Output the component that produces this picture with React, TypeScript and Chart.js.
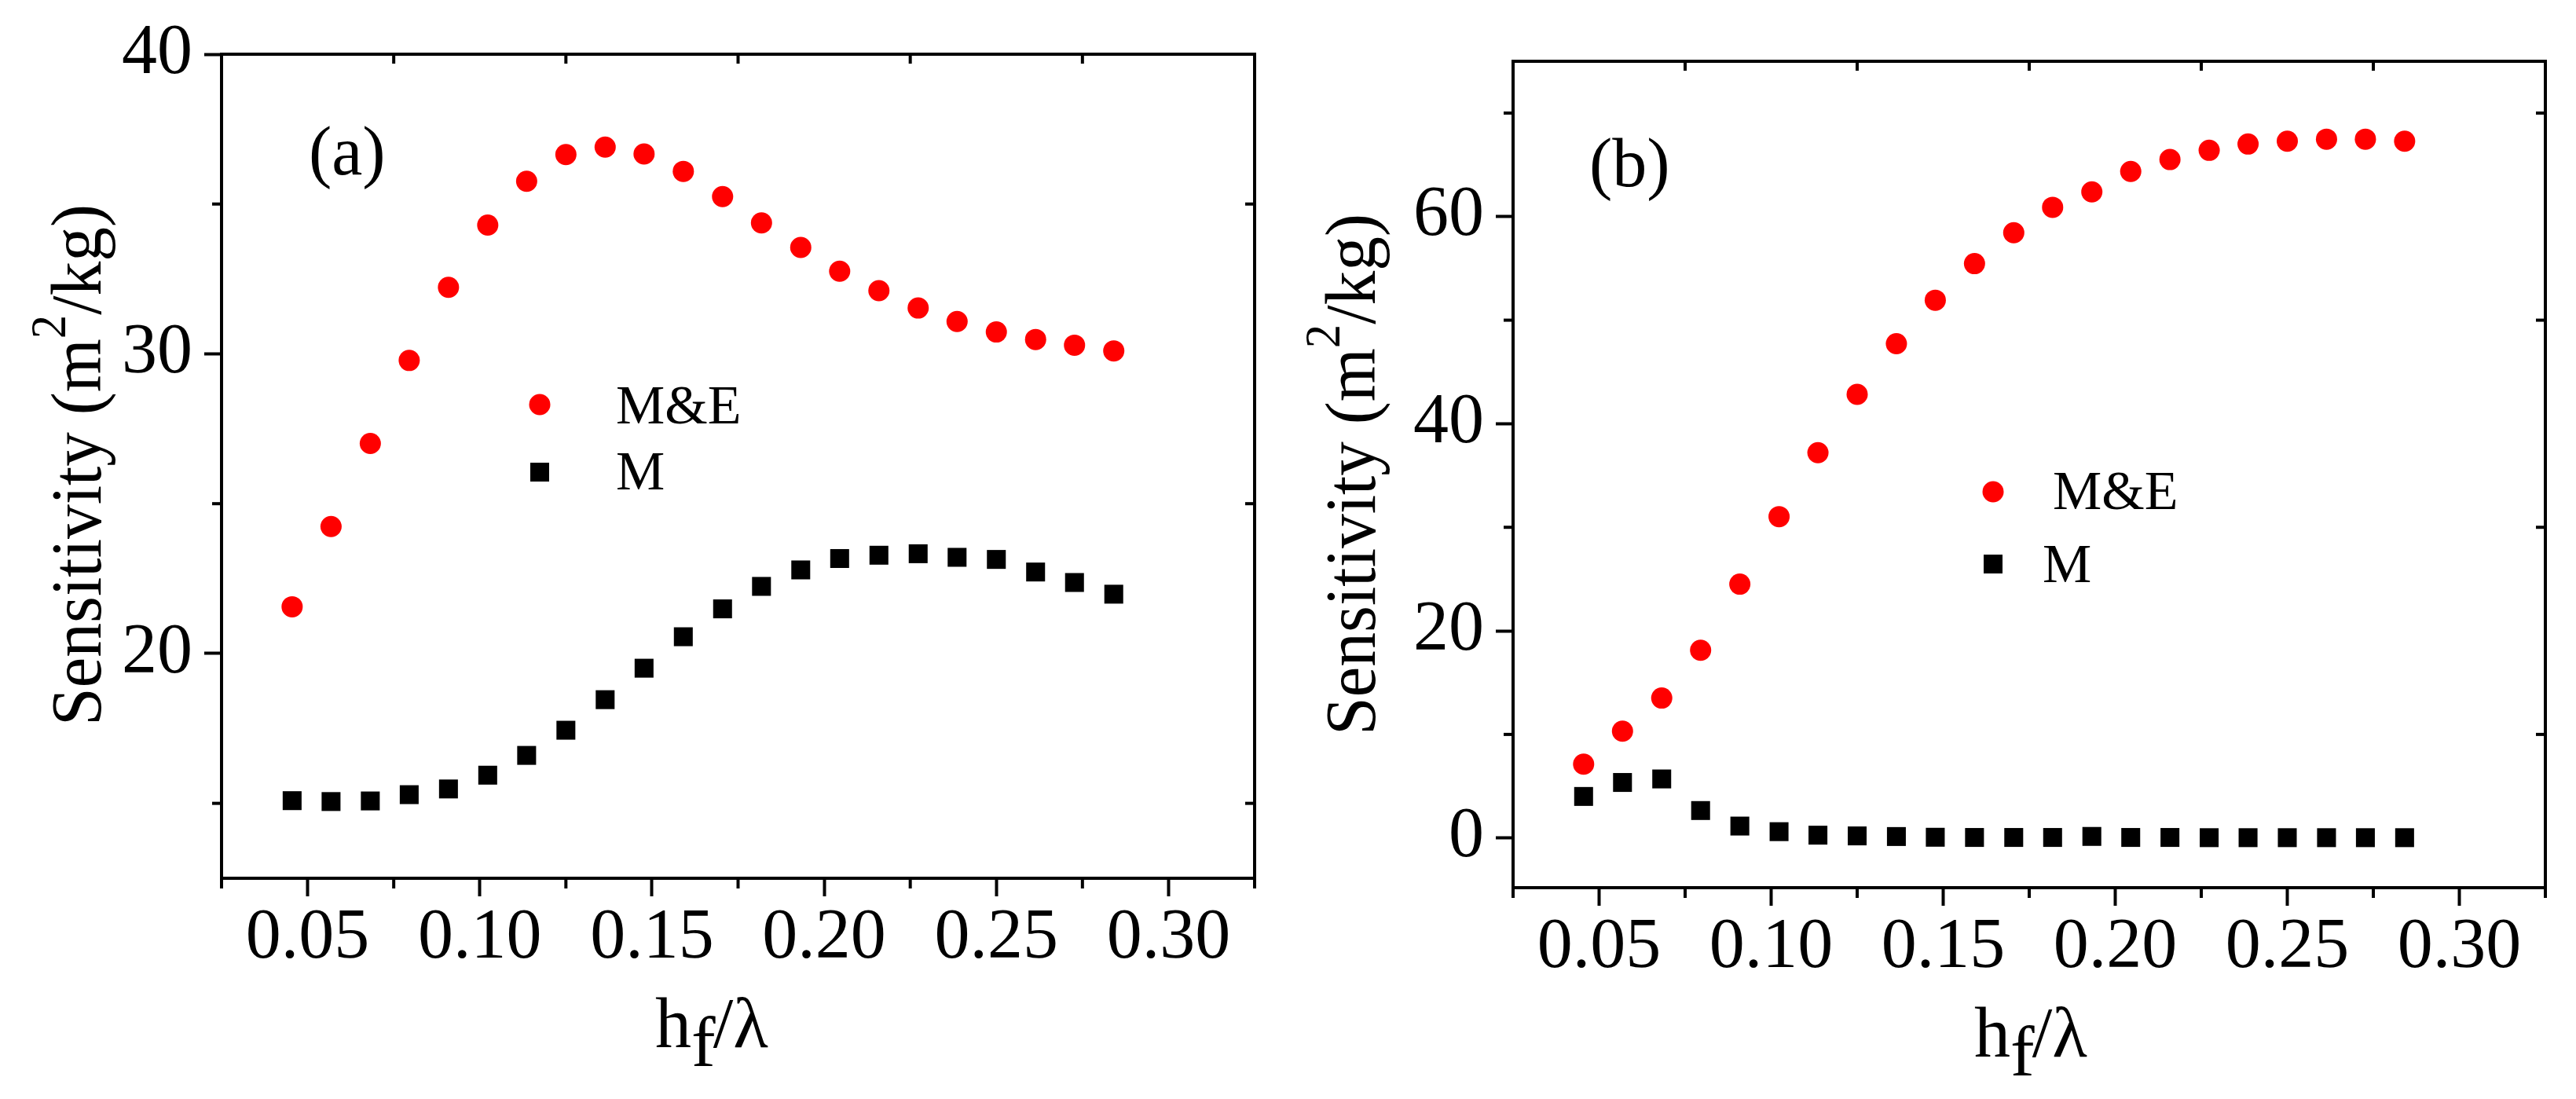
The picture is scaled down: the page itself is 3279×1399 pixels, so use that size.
import React, { useEffect, useRef } from "react";
import { Chart, registerables } from "chart.js";

Chart.register(...registerables);

// ---------------- data ----------------
const hfLambda = [
  0.0455, 0.0568, 0.0682, 0.0795, 0.0909, 0.1023, 0.1136, 0.125, 0.1364, 0.1477, 0.1591,
  0.1705, 0.1818, 0.1932, 0.2045, 0.2159, 0.2273, 0.2386, 0.25, 0.2614, 0.2727, 0.2841,
];
const sensA_ME = [
  21.56, 24.24, 27.01, 29.78, 32.22, 34.3, 35.76, 36.65, 36.9, 36.67, 36.09,
  35.25, 34.37, 33.55, 32.76, 32.11, 31.53, 31.08, 30.73, 30.48, 30.29, 30.1,
];
const sensA_M = [
  15.09, 15.06, 15.08, 15.29, 15.48, 15.94, 16.6, 17.44, 18.46, 19.51, 20.56,
  21.49, 22.24, 22.79, 23.17, 23.28, 23.33, 23.21, 23.14, 22.72, 22.37, 21.98,
];
const sensB_ME = [
  7.13, 10.32, 13.51, 18.13, 24.51, 31.03, 37.2, 42.84, 47.73, 51.93, 55.46,
  58.45, 60.9, 62.39, 64.36, 65.51, 66.4, 67.01, 67.28, 67.48, 67.48, 67.28,
];
const sensB_M = [
  4.01, 5.36, 5.7, 2.65, 1.15, 0.61, 0.27, 0.2, 0.14, 0.07, 0.05,
  0.05, 0.05, 0.15, 0.05, 0.05, 0.03, 0.03, 0.03, 0.03, 0.03, 0.03,
];
const seriesNames = ["M&E", "M"];
const panelLabels = ["(a)", "(b)"];
const xMajorTicks = [0.05, 0.1, 0.15, 0.2, 0.25, 0.3];
const xMinorTicks = [0.025, 0.075, 0.125, 0.175, 0.225, 0.275, 0.325];
const xTopTicks = [0.075, 0.125, 0.175, 0.225, 0.275];
const yMajorTicksA = [20, 30, 40];
const yMinorTicksA = [15, 25, 35];
const yMajorTicksB = [0, 20, 40, 60];
const yMinorTicksB = [10, 30, 50, 70];

const FONT = "'Liberation Serif', 'Times New Roman', serif";
const RED = "#ff0000";
const BLACK = "#000000";

type PanelCfg = {
  width: number;
  height: number;
  area: { left: number; right: number; top: number; bottom: number };
  yMin: number;
  yMax: number;
  yMajor: number[];
  yMinor: number[];
  me: number[];
  m: number[];
  label: string;
  labelPos: [number, number];
  yTitle: { baseX: number; cy: number };
  xTitle: { left: number; base: number };
  legend: { markerX: number; meY: number; mY: number; meTextX: number; mTextX: number; meBase: number; mBase: number };
};

const annotatePlugin = {
  id: "annotateOrigin",
  afterDraw(chart: any) {
    const cfg: PanelCfg = chart.options.plugins.annotateOrigin.cfg;
    const { ctx, chartArea: a } = chart;
    const xs = chart.scales.x;
    const ys = chart.scales.y;
    ctx.save();
    ctx.strokeStyle = BLACK;
    ctx.lineWidth = 4;
    ctx.lineCap = "butt";
    ctx.strokeRect(a.left, a.top, a.right - a.left, a.bottom - a.top);
    const line = (x1: number, y1: number, x2: number, y2: number) => {
      ctx.beginPath();
      ctx.moveTo(x1, y1);
      ctx.lineTo(x2, y2);
      ctx.stroke();
    };
    // bottom minor ticks (outward)
    for (const v of xMinorTicks) {
      const px = xs.getPixelForValue(v);
      line(px, a.bottom, px, a.bottom + 13);
    }
    // top ticks (inward)
    for (const v of xTopTicks) {
      const px = xs.getPixelForValue(v);
      line(px, a.top, px, a.top + 12);
    }
    // left minor ticks (outward) and right ticks (inward)
    for (const v of cfg.yMinor) {
      const py = ys.getPixelForValue(v);
      line(a.left - 12, py, a.left, py);
      line(a.right - 12, py, a.right, py);
    }
    ctx.restore();

    // panel label
    ctx.save();
    ctx.fillStyle = BLACK;
    ctx.textBaseline = "alphabetic";
    ctx.textAlign = "left";
    ctx.font = `88px ${FONT}`;
    ctx.fillText(cfg.label, cfg.labelPos[0], cfg.labelPos[1]);

    // legend
    const L = cfg.legend;
    ctx.fillStyle = RED;
    ctx.beginPath();
    ctx.arc(L.markerX, L.meY, 13.5, 0, Math.PI * 2);
    ctx.fill();
    ctx.fillStyle = BLACK;
    ctx.fillRect(L.markerX - 12, L.mY - 12, 24, 24);
    ctx.font = `70px ${FONT}`;
    ctx.fillText(seriesNames[0], L.meTextX, L.meBase);
    ctx.fillText(seriesNames[1], L.mTextX, L.mBase);

    // x title: h_f / λ
    const X = cfg.xTitle;
    ctx.font = `92px ${FONT}`;
    let cx = X.left;
    ctx.fillText("h", cx, X.base);
    cx += ctx.measureText("h").width;
    ctx.fillText("f", cx, X.base + 24);
    cx += ctx.measureText("f").width - 3;
    ctx.fillText("/λ", cx, X.base);
    ctx.restore();

    // y title: Sensitivity (m^2/kg)
    ctx.save();
    ctx.fillStyle = BLACK;
    ctx.textBaseline = "alphabetic";
    ctx.textAlign = "left";
    ctx.translate(cfg.yTitle.baseX, cfg.yTitle.cy);
    ctx.rotate(-Math.PI / 2);
    ctx.scale(0.95, 1);
    const p1 = "Sensitivity (m";
    const p2 = "2";
    const p3 = "/kg)";
    ctx.font = `92px ${FONT}`;
    const w1 = ctx.measureText(p1).width;
    const w3 = ctx.measureText(p3).width;
    ctx.font = `64px ${FONT}`;
    const w2 = ctx.measureText(p2).width;
    const total = w1 + w2 + w3;
    let tx = -total / 2;
    ctx.font = `92px ${FONT}`;
    ctx.fillText(p1, tx, 0);
    tx += w1;
    ctx.font = `64px ${FONT}`;
    ctx.fillText(p2, tx, -45);
    tx += w2;
    ctx.font = `92px ${FONT}`;
    ctx.fillText(p3, tx, 0);
    ctx.restore();
  },
};

function Panel({ cfg, left }: { cfg: PanelCfg; left: number }) {
  const ref = useRef<HTMLCanvasElement | null>(null);
  useEffect(() => {
    if (!ref.current) return;
    const a = cfg.area;
    const chart = new Chart(ref.current, {
      type: "scatter",
      data: {
        datasets: [
          {
            label: seriesNames[0],
            data: hfLambda.map((x, i) => ({ x, y: cfg.me[i] })),
            pointStyle: "circle",
            pointRadius: 13.5,
            pointHoverRadius: 13.5,
            backgroundColor: RED,
            borderColor: RED,
            borderWidth: 0,
            showLine: false,
          },
          {
            label: seriesNames[1],
            data: hfLambda.map((x, i) => ({ x, y: cfg.m[i] })),
            pointStyle: "rect",
            pointRadius: 17,
            pointHoverRadius: 17,
            backgroundColor: BLACK,
            borderColor: BLACK,
            borderWidth: 0,
            showLine: false,
          },
        ],
      },
      options: {
        animation: false,
        responsive: false,
        devicePixelRatio: 1,
        events: [],
        layout: {
          padding: { left: 0, top: a.top, right: cfg.width - a.right, bottom: 0 },
        },
        plugins: {
          legend: { display: false },
          tooltip: { enabled: false },
          title: { display: false },
          annotateOrigin: { cfg },
        } as any,
        scales: {
          x: {
            type: "linear",
            position: "bottom",
            min: 0.025,
            max: 0.325,
            afterBuildTicks: (s: any) => {
              s.ticks = xMajorTicks.map((v) => ({ value: v }));
            },
            afterFit: (s: any) => {
              s.height = cfg.height - a.bottom;
            },
            ticks: {
              autoSkip: false,
              maxRotation: 0,
              minRotation: 0,
              padding: 0,
              color: BLACK,
              font: { family: FONT, size: 90, lineHeight: 1.2 },
              callback: (v: any) => Number(v).toFixed(2),
            },
            grid: {
              display: true,
              drawOnChartArea: false,
              drawTicks: true,
              tickLength: 23,
              tickWidth: 4,
              tickColor: BLACK,
            },
            border: { display: false },
          },
          y: {
            type: "linear",
            position: "left",
            min: cfg.yMin,
            max: cfg.yMax,
            afterBuildTicks: (s: any) => {
              s.ticks = cfg.yMajor.map((v) => ({ value: v }));
            },
            afterFit: (s: any) => {
              s.width = a.left;
            },
            ticks: {
              autoSkip: false,
              padding: 15,
              color: BLACK,
              font: { family: FONT, size: 90, lineHeight: 1.2 },
              callback: (v: any) => String(v),
            },
            grid: {
              display: true,
              drawOnChartArea: false,
              drawTicks: true,
              tickLength: 22,
              tickWidth: 4,
              tickColor: BLACK,
            },
            border: { display: false },
          },
        },
      },
      plugins: [annotatePlugin],
    } as any);
    return () => chart.destroy();
  }, [cfg]);
  return (
    <canvas
      ref={ref}
      width={cfg.width}
      height={cfg.height}
      style={{ position: "absolute", left, top: 0, width: cfg.width, height: cfg.height }}
    />
  );
}

const panelA: PanelCfg = {
  width: 1640,
  height: 1399,
  area: { left: 282, right: 1597, top: 66, bottom: 1118 },
  yMin: 12.5,
  yMax: 40,
  yMajor: yMajorTicksA,
  yMinor: yMinorTicksA,
  me: sensA_ME,
  m: sensA_M,
  label: panelLabels[0],
  labelPos: [393, 222],
  yTitle: { baseX: 128, cy: 592 },
  xTitle: { left: 834, base: 1333 },
  legend: { markerX: 687, meY: 515, mY: 601, meTextX: 784, mTextX: 784, meBase: 539, mBase: 623 },
};

const panelB: PanelCfg = {
  width: 1639,
  height: 1399,
  area: { left: 286, right: 1600, top: 78, bottom: 1130 },
  yMin: -4.8,
  yMax: 75,
  yMajor: yMajorTicksB,
  yMinor: yMinorTicksB,
  me: sensB_ME,
  m: sensB_M,
  label: panelLabels[1],
  labelPos: [383, 237],
  yTitle: { baseX: 110, cy: 604 },
  xTitle: { left: 873, base: 1345 },
  legend: { markerX: 897, meY: 626, mY: 718, meTextX: 973, mTextX: 960, meBase: 648, mBase: 741 },
};

export default function App() {
  return (
    <div
      style={{
        position: "absolute",
        left: 0,
        top: 0,
        width: 3279,
        height: 1399,
        background: "#ffffff",
        overflow: "hidden",
      }}
    >
      <Panel cfg={panelA} left={0} />
      <Panel cfg={panelB} left={1640} />
    </div>
  );
}
